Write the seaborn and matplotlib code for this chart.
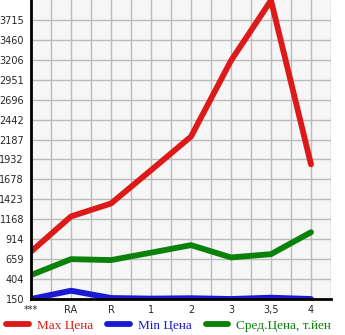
import numpy as np
import pandas as pd
import matplotlib
matplotlib.use("Agg")
import matplotlib.pyplot as plt
import seaborn as sns
from matplotlib.lines import Line2D

categories = ["***", "RA", "R", "1", "2", "3", "3,5", "4"]
max_price = [755, 1205, 1370, 1795, 2225, 3195, 3965, 1870]
min_price = [150, 256, 163, 155, 160, 150, 167, 150]
avg_price = [456, 659, 647, 742, 838, 681, 723, 1003]
y_tick_labels = ["150", "404", "659", "914", "1168", "1423", "1678", "1932",
                 "2187", "2442", "2696", "2951", "3206", "3460", "3715"]
series_names = ["Max Цена", "Min Цена", "Сред.Цена, т.йен"]
colors = ["#dd1a1a", "#1a1ad4", "#0a820a"]

rows = []
for name, vals in zip(series_names, [max_price, min_price, avg_price]):
    for c, v in zip(categories, vals):
        rows.append({"cat": c, "price": v, "series": name})
df = pd.DataFrame(rows)

sns.set_style("white")
plt.rcParams['font.family'] = ['DejaVu Sans']

fig = plt.figure(figsize=(3.45, 3.35), dpi=100)
ax = fig.add_axes([31/345, 36/335, 300/345, 299/335])
ax.set_facecolor("#f6f6f6")

sns.lineplot(data=df, x="cat", y="price", hue="series", hue_order=series_names,
             palette=colors, linewidth=4.2, ax=ax, legend=False, sort=False,
             solid_capstyle="round")

step = (3715 - 150) / 14
yt = [150 + i * step for i in range(15)]
ax.set_ylim(150, 150 + 15 * step)
ax.set_yticks(yt)
ax.set_yticklabels(y_tick_labels)
xt = np.arange(0, 7.51, 0.5)
ax.set_xticks(xt)
labels = []
for v in xt:
    labels.append(categories[int(v)] if float(v).is_integer() and int(v) < len(categories) else "")
ax.set_xticklabels(labels)
ax.set_xlim(0, 7.5)
ax.grid(True, color="#bbbbbb", linewidth=1)
ax.set_axisbelow(True)
ax.set_xlabel("")
ax.set_ylabel("")
for s in ["top", "right"]:
    ax.spines[s].set_visible(False)
for s in ["left", "bottom"]:
    ax.spines[s].set_color("black")
    ax.spines[s].set_linewidth(2)
ax.tick_params(axis="both", length=4, width=1, color="black", labelsize=7)
ax.tick_params(axis="y", pad=1)
ax.tick_params(axis="x", pad=0.5)

handles = [Line2D([0], [0], color=c, lw=4.2, solid_capstyle="round") for c in colors]
leg = fig.legend(handles, series_names, loc="lower left", bbox_to_anchor=(-0.005, -0.015),
                 ncol=3, frameon=False, handlelength=1.7, handletextpad=0.6,
                 columnspacing=1.1, borderaxespad=0.2,
                 prop={"family": "Liberation Serif", "size": 9.5})
for t, c in zip(leg.get_texts(), colors):
    t.set_color(c)

fig.savefig("out.png", dpi=100)
